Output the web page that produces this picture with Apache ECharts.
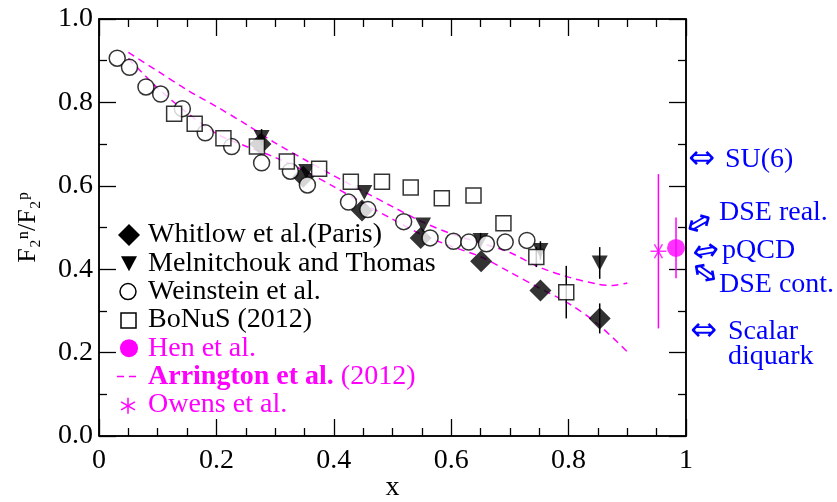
<!DOCTYPE html>
<html>
<head>
<meta charset="utf-8">
<script src="https://cdn.jsdelivr.net/npm/echarts@6/dist/echarts.min.js"></script>
<style>
  html, body { margin: 0; padding: 0; background: #fff; }
  #main { width: 837px; height: 502px; }
</style>
</head>
<body>
<div id="main"></div>
<script>
// ---- data ----
const whitlow = [[0.275, 0.700], [0.348, 0.622], [0.448, 0.541], [0.548, 0.475], [0.651, 0.419], [0.752, 0.349], [0.853, 0.282]];
const whitlowErr = [[0.853, 0.282, 0.036]];

const melnitchouk = [[0.277, 0.716], [0.353, 0.634], [0.452, 0.584], [0.552, 0.506], [0.650, 0.469], [0.752, 0.445], [0.853, 0.415]];
const melnitchoukErr = [[0.277, 0.716, 0.02], [0.650, 0.469, 0.018], [0.752, 0.445, 0.022], [0.853, 0.415, 0.038]];

const weinstein = [[0.031, 0.906], [0.052, 0.884], [0.080, 0.837], [0.105, 0.820], [0.142, 0.785], [0.181, 0.727],
  [0.226, 0.694], [0.277, 0.655], [0.326, 0.635], [0.355, 0.602], [0.425, 0.561], [0.458, 0.543], [0.519, 0.514],
  [0.564, 0.475], [0.604, 0.467], [0.630, 0.465], [0.660, 0.461], [0.692, 0.465], [0.729, 0.469]];

const bonus = [[0.128, 0.773], [0.163, 0.749], [0.212, 0.714], [0.269, 0.694], [0.320, 0.658], [0.375, 0.641],
  [0.429, 0.610], [0.482, 0.610], [0.531, 0.596], [0.584, 0.570], [0.638, 0.577], [0.689, 0.510], [0.745, 0.429], [0.796, 0.345]];
const bonusErr = [[0.745, 0.429, 0.024], [0.796, 0.345, 0.063]];

const hen = [[0.983, 0.451]];
const henErr = [[0.983, 0.451, 0.073]];

const owens = [[0.953, 0.443]];
const owensErr = [[0.953, 0.443, 0.185]];

const arringtonUpper = [[0.05, 0.920], [0.1, 0.875], [0.15, 0.830], [0.2, 0.790], [0.25, 0.748], [0.3, 0.703], [0.35, 0.663],
  [0.4, 0.624], [0.45, 0.587], [0.5, 0.550], [0.55, 0.514], [0.6, 0.485], [0.65, 0.463], [0.7, 0.440], [0.75, 0.405],
  [0.8, 0.381], [0.85, 0.364], [0.875, 0.361], [0.9, 0.367]];
const arringtonLower = [[0.05, 0.905], [0.08, 0.862], [0.1, 0.834], [0.15, 0.775], [0.2, 0.725], [0.25, 0.695], [0.3, 0.668],
  [0.35, 0.636], [0.4, 0.598], [0.45, 0.558], [0.5, 0.520], [0.55, 0.483], [0.6, 0.455], [0.65, 0.430], [0.7, 0.393],
  [0.75, 0.355], [0.8, 0.318], [0.85, 0.268], [0.9, 0.202]];

// theory values marked on the right axis
const theoryNames = ['SU(6)', 'DSE real.', 'pQCD', 'DSE cont.', 'Scalar\ndiquark'];
const theoryValues = [0.667, 0.49, 0.43, 0.41, 0.25];

const legendNames = ['Whitlow et al.(Paris)', 'Melnitchouk and Thomas', 'Weinstein et al.', 'BoNuS (2012)',
  'Hen et al.', 'Arrington et al. (2012)', 'Owens et al.'];

const MAG = '#ff00ff';
const BLUE = '#0000ff';
const FONT = 'Liberation Serif';

function toBars(arr) {
  return arr.map(d => [d[0], d[1] - d[2], d[1] + d[2]]);
}

function errRender(params, api) {
  const a = api.coord([api.value(0), api.value(1)]);
  const b = api.coord([api.value(0), api.value(2)]);
  return {
    type: 'line',
    shape: { x1: a[0], y1: a[1], x2: b[0], y2: b[1] },
    style: { stroke: api.visual('color'), lineWidth: 1.5 }
  };
}

function errSeries(arr, color) {
  return {
    type: 'custom',
    renderItem: errRender,
    data: toBars(arr),
    itemStyle: { color: color },
    silent: true,
    z: 2
  };
}

// box around the plot, corners taken from the axis scales
function frameRender(params, api) {
  const a = api.coord([0, 0]);
  const b = api.coord([1, 1]);
  return {
    type: 'polyline',
    shape: { points: [[a[0], a[1]], [a[0], b[1]], [b[0], b[1]], [b[0], a[1]], [a[0], a[1]]] },
    style: { stroke: '#000', fill: null, lineWidth: 1.5 }
  };
}

function makeAxis(pos, minorSplit, extra) {
  const ax = {
    show: true,
    type: 'value', min: 0, max: 1, interval: 0.2, position: pos,
    axisLine: { show: true, onZero: false, lineStyle: { color: '#000', width: 1.5 } },
    axisTick: { show: true, inside: true, length: 17, lineStyle: { color: '#000', width: 1.3 } },
    minorTick: { show: true, splitNumber: minorSplit, length: 8, lineStyle: { color: '#000', width: 1.3 } },
    splitLine: { show: false },
    axisLabel: { show: false }
  };
  return Object.assign(ax, extra || {});
}

const chart = echarts.init(document.getElementById('main'), null, { renderer: 'canvas' });

var option = {
  backgroundColor: '#fff',
  animation: false,
  textStyle: { fontFamily: FONT },
  grid: {
    left: 99, right: 151, top: 19, bottom: 66, containLabel: false, outerBoundsMode: 'none'
  },
  xAxis: [
    makeAxis('bottom', 4, {
      name: 'x', nameLocation: 'middle', nameGap: 38, nameMoveOverlap: false,
      nameTextStyle: { fontFamily: FONT, fontSize: 28, color: '#000' },
      axisLabel: {
        show: true, fontFamily: FONT, fontSize: 28, color: '#000', margin: 11,
        formatter: v => (v === 0 ? '0' : v === 1 ? '1' : v.toFixed(1))
      }
    }),
    makeAxis('top', 4)
  ],
  yAxis: [
    makeAxis('left', 2, {
      name: 'F\u2082\u207F/F\u2082\u1D56', nameLocation: 'middle', nameGap: 58,
      nameTextStyle: { fontFamily: FONT, fontSize: 26, color: '#000' },
      axisLabel: {
        show: true, fontFamily: FONT, fontSize: 28, color: '#000', margin: 6,
        formatter: v => v.toFixed(1)
      }
    }),
    makeAxis('right', 2)
  ],
  series: [
    {
      type: 'custom', renderItem: frameRender, data: [[0, 0]], silent: true, z: 8
    },
    {
      name: legendNames[5], type: 'line', data: arringtonUpper, smooth: 0.3,
      symbol: 'none', color: MAG, lineStyle: { color: MAG, width: 1.5, type: [7, 5] }, z: 1
    },
    {
      name: legendNames[5], type: 'line', data: arringtonLower, smooth: 0.3,
      symbol: 'none', color: MAG, lineStyle: { color: MAG, width: 1.5, type: [7, 5] }, z: 1
    },
    errSeries(whitlowErr, '#000'),
    errSeries(melnitchoukErr, '#000'),
    errSeries(bonusErr, '#000'),
    errSeries(henErr, MAG),
    errSeries(owensErr, MAG),
    {
      name: legendNames[0], type: 'scatter', data: whitlow, symbol: 'diamond', symbolSize: 22,
      itemStyle: { color: '#000' }, z: 3
    },
    {
      name: legendNames[1], type: 'scatter', data: melnitchouk, symbol: 'triangle', symbolRotate: 180,
      symbolSize: [16, 15], itemStyle: { color: '#000' }, z: 4
    },
    {
      name: legendNames[2], type: 'scatter', data: weinstein, symbol: 'circle', symbolSize: 16,
      itemStyle: { color: '#fff', borderColor: '#000', borderWidth: 1.5 }, z: 5
    },
    {
      name: legendNames[3], type: 'scatter', data: bonus, symbol: 'rect', symbolSize: 15,
      itemStyle: { color: '#fff', borderColor: '#000', borderWidth: 1.5 }, z: 6
    },
    {
      name: legendNames[4], type: 'scatter', data: hen, symbol: 'circle', symbolSize: 18,
      itemStyle: { color: MAG }, z: 7
    },
    {
      name: legendNames[6], type: 'scatter', data: owens,
      symbol: 'path://M0,-10L0,10M-8.66,-5L8.66,5M-8.66,5L8.66,-5', symbolSize: [14, 16], symbolRotate: 90,
      itemStyle: { color: 'rgba(0,0,0,0)', borderColor: MAG, borderWidth: 1.5 }, z: 7
    }
  ]
};

chart.setOption(option);

const graphics = [];

// legend drawn as a block of rows (icon + label)
const legendX = 129, legendTextX = 148, legendTop = 235, legendStep = 28.3;
const legendColors = ['#000', '#000', '#000', '#000', MAG, MAG, MAG];
legendNames.forEach((name, i) => {
  const cy = legendTop + i * legendStep;
  if (i === 0) {
    graphics.push({ type: 'polygon', shape: { points: [[legendX, cy - 11], [legendX + 11, cy], [legendX, cy + 11], [legendX - 11, cy]] }, style: { fill: '#000' } });
  } else if (i === 1) {
    graphics.push({ type: 'polygon', shape: { points: [[legendX - 8, cy - 7], [legendX + 8, cy - 7], [legendX, cy + 8]] }, style: { fill: '#000' } });
  } else if (i === 2) {
    graphics.push({ type: 'circle', shape: { cx: legendX - 1, cy: cy, r: 8 }, style: { fill: '#fff', stroke: '#000', lineWidth: 1.5 } });
  } else if (i === 3) {
    graphics.push({ type: 'rect', shape: { x: legendX - 8, y: cy - 7, width: 15, height: 15 }, style: { fill: '#fff', stroke: '#000', lineWidth: 1.5 } });
  } else if (i === 4) {
    graphics.push({ type: 'circle', shape: { cx: legendX, cy: cy, r: 9 }, style: { fill: MAG } });
  } else if (i === 5) {
    graphics.push({ type: 'line', shape: { x1: legendX - 12, y1: cy, x2: legendX + 11, y2: cy }, style: { stroke: MAG, lineWidth: 1.5, lineDash: [7, 5] } });
  } else {
    const sx = legendX - 1, sy = cy + 1;
    [[0, -8, 0, 8], [-6.9, -4, 6.9, 4], [-6.9, 4, 6.9, -4]].forEach(s => {
      graphics.push({ type: 'line', shape: { x1: sx + s[0], y1: sy + s[1], x2: sx + s[2], y2: sy + s[3] }, style: { stroke: MAG, lineWidth: 1.5 } });
    });
  }
  const label = i === 5
    ? { text: '{b|Arrington et al.} (2012)', rich: { b: { fontWeight: 'bold', fontFamily: FONT, fontSize: 28, fill: MAG } } }
    : { text: name };
  graphics.push({
    type: 'text', x: legendTextX, y: cy,
    style: Object.assign({ fill: legendColors[i], font: '28px ' + FONT, align: 'left', verticalAlign: 'middle' }, label)
  });
});

// annotations on the right axis, placed from the axis scale
const annoLayout = [
  { arrow: [16, 2, 0], text: [39, 2] },
  { arrow: [14, -7, 30], text: [33, -19] },
  { arrow: [20, -4, 10], text: [36, -6] },
  { arrow: [18, 9, -35], text: [33, 20] },
  { arrow: [18, 0, 0], text: [42, 12] }
];
theoryValues.forEach((v, i) => {
  const p = chart.convertToPixel({ xAxisIndex: 0, yAxisIndex: 0 }, [1, v]);
  const L = annoLayout[i];
  graphics.push({
    type: 'text', x: p[0] + L.arrow[0], y: p[1] + L.arrow[1], rotation: L.arrow[2] * Math.PI / 180,
    style: { text: '\u21D4', fill: BLUE, font: '32px DejaVu Sans', align: 'center', verticalAlign: 'middle' }
  });
  graphics.push({
    type: 'text', x: p[0] + L.text[0], y: p[1] + L.text[1],
    style: {
      text: theoryNames[i], fill: BLUE, font: '28px ' + FONT, align: 'left', verticalAlign: 'middle',
      lineHeight: 25
    }
  });
});
chart.setOption({ graphic: graphics });
</script>
</body>
</html>
